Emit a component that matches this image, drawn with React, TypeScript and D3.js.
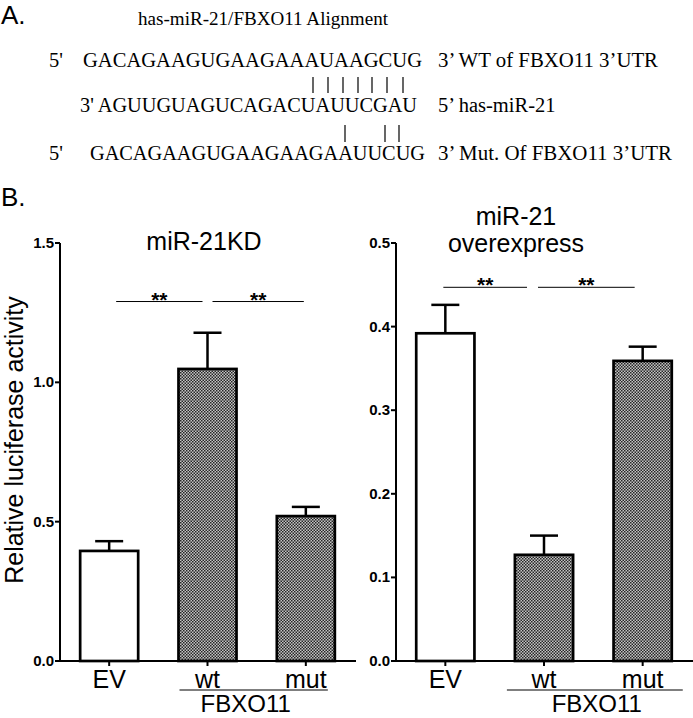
import React from "react";
import * as d3 from "d3";

const categories = ["EV", "wt", "mut"];
const kdValues = [0.395, 1.048, 0.52];
const kdErrors = [0.035, 0.13, 0.033];
const oeValues = [0.392, 0.127, 0.359];
const oeErrors = [0.034, 0.023, 0.017];
const kdTicks = [0, 0.5, 1.0, 1.5];
const oeTicks = [0, 0.1, 0.2, 0.3, 0.4, 0.5];
const kdSig = 1.29;
const oeSig = 0.447;

const wtSeq = "GACAGAAGUGAAGAAAUAAGCUG";
const mirSeq = "3' AGUUGUAGUCAGACUAUUCGAU";
const mutSeq = "GACAGAAGUGAAGAAGAAUUCUG";

const SANS = "Arial, 'Liberation Sans', Helvetica, sans-serif";
const SERIF = "'Times New Roman', 'Liberation Serif', serif";

type PanelProps = {
  values: number[];
  errors: number[];
  ticks: number[];
  domainMax: number;
  x0: number;
  x1: number;
  titleLines: string[];
  titleX: number;
  titleY: number;
  sig: number;
  sigOff: [number, number, number, number];
  fbxOff: [number, number, number];
};

function Panel(p: PanelProps) {
  const y = d3.scaleLinear().domain([0, p.domainMax]).range([661, 243]);
  const x = d3.scaleBand().domain(categories).range([p.x0, p.x1]).paddingInner(0.41).paddingOuter(0.205);
  const bw = x.bandwidth();
  const c = (k: string) => (x(k) as number) + bw / 2;
  const sy = y(p.sig);
  const pairs: [string, string][] = [["EV", "wt"], ["wt", "mut"]];
  const fmt = d3.format(".1f");
  const fx1 = (x("wt") as number) + p.fbxOff[0];
  const fx2 = (x("mut") as number) + bw + p.fbxOff[1];
  return (
    <g>
      {p.titleLines.map((t, i) => (
        <text key={t} x={p.titleX} y={p.titleY + i * 27} textAnchor="middle" fontFamily={SANS} fontSize={25}>
          {t}
        </text>
      ))}
      <line x1={p.x0} x2={p.x0} y1={y(p.domainMax)} y2={y(0)} stroke="#000" strokeWidth={2} />
      {p.ticks.map((t) => (
        <g key={t}>
          <line x1={p.x0 - 5} x2={p.x0} y1={y(t)} y2={y(t)} stroke="#000" strokeWidth={2} />
          <text x={p.x0 - 6} y={y(t) + 5} textAnchor="end" fontFamily={SANS} fontWeight="bold" fontSize={15}>
            {fmt(t)}
          </text>
        </g>
      ))}
      {categories.map((k, i) => {
        const bx = x(k) as number;
        const top = y(p.values[i]);
        const et = y(p.values[i] + p.errors[i]);
        const cx = c(k);
        return (
          <g key={k}>
            <line x1={cx} x2={cx} y1={top} y2={et} stroke="#000" strokeWidth={2.5} />
            <line x1={cx - 14} x2={cx + 14} y1={et} y2={et} stroke="#000" strokeWidth={2.5} />
            <rect x={bx} y={top} width={bw} height={y(0) - top} fill={i === 0 ? "#fff" : "url(#checker)"} stroke="#000" strokeWidth={2.7} />
            <line x1={cx} x2={cx} y1={y(0)} y2={y(0) + 5} stroke="#000" strokeWidth={2} />
            <text x={cx} y={688} textAnchor="middle" fontFamily={SANS} fontSize={25}>
              {k}
            </text>
          </g>
        );
      })}
      <line x1={p.x0 - 1} x2={p.x1 + 1} y1={y(0)} y2={y(0)} stroke="#000" strokeWidth={2} />
      {pairs.map(([a, b], i) => {
        const xa = c(a) + p.sigOff[i * 2];
        const xb = c(b) + p.sigOff[i * 2 + 1];
        return (
          <g key={a + b}>
            <line x1={xa} x2={xb} y1={sy} y2={sy} stroke="#000" strokeWidth={1} />
            <text x={(xa + xb) / 2} y={sy + 5} textAnchor="middle" fontFamily={SANS} fontWeight="bold" fontSize={21}>
              **
            </text>
          </g>
        );
      })}
      <line x1={fx1} x2={fx2} y1={690} y2={690} stroke="#000" strokeWidth={1.2} />
      <text x={(fx1 + fx2) / 2 + p.fbxOff[2]} y={712} textAnchor="middle" fontFamily={SANS} fontSize={24}>
        FBXO11
      </text>
    </g>
  );
}

export default function App() {
  const wtBars = [313, 328, 343, 358, 372, 387, 403];
  const mutBars = [345, 385, 399];
  return (
    <svg width={693} height={718} style={{ position: "absolute", left: 0, top: 0, background: "#fff" }}>
      <defs>
        <pattern id="checker" width={3} height={3} patternUnits="userSpaceOnUse">
          <rect width={3} height={3} fill="#c4c4c4" />
          <rect width={1.5} height={1.5} fill="#262626" />
          <rect x={1.5} y={1.5} width={1.5} height={1.5} fill="#262626" />
        </pattern>
      </defs>
      <rect width={693} height={718} fill="#fff" />
      {/* Section A */}
      <text x={1} y={24} fontFamily={SANS} fontSize={26}>A.</text>
      <text x={138} y={25} fontFamily={SERIF} fontSize={19} textLength={250} lengthAdjust="spacingAndGlyphs">has-miR-21/FBXO11 Alignment</text>
      <text x={49} y={67} fontFamily={SERIF} fontSize={20.5}>5'</text>
      <text x={83} y={67} fontFamily={SERIF} fontSize={20.5} textLength={339} lengthAdjust="spacingAndGlyphs">{wtSeq}</text>
      <text x={438} y={67} fontFamily={SERIF} fontSize={20.5} textLength={220} lengthAdjust="spacingAndGlyphs">3’ WT of FBXO11 3’UTR</text>
      {wtBars.map((bx) => (
        <line key={"w" + bx} x1={bx} x2={bx} y1={77} y2={93} stroke="#000" strokeWidth={1.2} />
      ))}
      <text x={80} y={112} fontFamily={SERIF} fontSize={20.5} textLength={337} lengthAdjust="spacingAndGlyphs">{mirSeq}</text>
      <text x={438} y={112} fontFamily={SERIF} fontSize={20.5}>5’ has-miR-21</text>
      {mutBars.map((bx) => (
        <line key={"m" + bx} x1={bx} x2={bx} y1={125} y2={142} stroke="#000" strokeWidth={1.2} />
      ))}
      <text x={49} y={160} fontFamily={SERIF} fontSize={20.5}>5'</text>
      <text x={90} y={160} fontFamily={SERIF} fontSize={20.5} textLength={335} lengthAdjust="spacingAndGlyphs">{mutSeq}</text>
      <text x={438} y={160} fontFamily={SERIF} fontSize={20.5} textLength={234} lengthAdjust="spacingAndGlyphs">3’ Mut. Of FBXO11 3’UTR</text>
      {/* Section B */}
      <text x={1} y={206} fontFamily={SANS} fontSize={26}>B.</text>
      <text transform="translate(23,440) rotate(-90)" textAnchor="middle" fontFamily={SANS} fontSize={25}>
        Relative luciferase activity
      </text>
      <Panel
        values={kdValues}
        errors={kdErrors}
        ticks={kdTicks}
        domainMax={1.5}
        x0={60}
        x1={355}
        titleLines={["miR-21KD"]}
        titleX={204}
        titleY={250}
        sig={kdSig}
        sigOff={[7, -5, 5, -2]}
        fbxOff={[1, -7, -8]}
      />
      <Panel
        values={oeValues}
        errors={oeErrors}
        ticks={oeTicks}
        domainMax={0.5}
        x0={396}
        x1={692}
        titleLines={["miR-21", "overexpress"]}
        titleX={516}
        titleY={225}
        sig={oeSig}
        sigOff={[-2, -17, -6, -8]}
        fbxOff={[-8, 11, 2]}
      />
    </svg>
  );
}
